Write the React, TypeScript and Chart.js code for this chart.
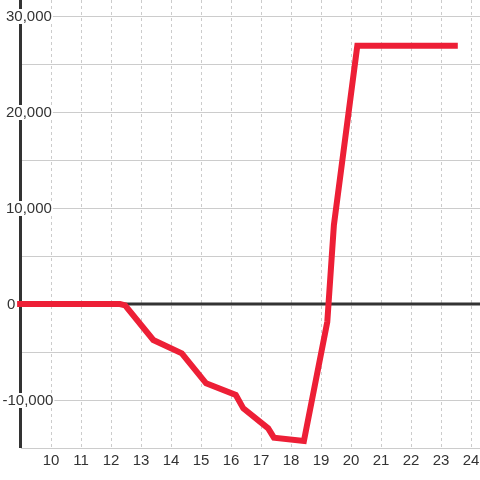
import React, { useEffect, useRef } from "react";
import { Chart, registerables } from "chart.js";

Chart.register(...registerables);

const xValues = [8.87, 12.3, 12.47, 13.41, 14.36, 15.17, 16.16, 16.41, 17.24, 17.43, 18.43, 19.21, 19.43, 20.21, 23.56];
const yValues = [0, 0, -150, -3750, -5140, -8260, -9480, -10870, -12950, -13920, -14270, -1850, 8230, 26900, 26900];
const yGridValues = [-15000, -10000, -5000, 5000, 10000, 15000, 20000, 25000, 30000];
const yTickValues = [30000, 20000, 10000, 0, -10000];
const yTickLabels = ["30,000", "20,000", "10,000", "0", "-10,000"];
const xTickValues = [10, 11, 12, 13, 14, 15, 16, 17, 18, 19, 20, 21, 22, 23, 24];

const FONT = "'Liberation Sans', Arial, sans-serif";

export default function App() {
  const ref = useRef<HTMLCanvasElement>(null);

  useEffect(() => {
    const canvas = ref.current;
    if (!canvas) return;

    const yAxisPlugin = {
      id: "yAxisCustom",
      beforeDatasetsDraw(chart: any) {
        const ctx = chart.ctx;
        const ys = chart.scales.y;
        const area = chart.chartArea;
        ctx.save();
        ctx.strokeStyle = "#cccccc";
        ctx.lineWidth = 1;
        yGridValues.forEach((v) => {
          const py = Math.round(ys.getPixelForValue(v)) + 0.5;
          ctx.beginPath();
          ctx.moveTo(area.left, py);
          ctx.lineTo(area.right, py);
          ctx.stroke();
        });
        const zy = ys.getPixelForValue(0);
        ctx.strokeStyle = "#333333";
        ctx.lineWidth = 3;
        ctx.beginPath();
        ctx.moveTo(area.left, zy);
        ctx.lineTo(area.right, zy);
        ctx.stroke();
        ctx.beginPath();
        ctx.moveTo(area.left - 0.5, area.top);
        ctx.lineTo(area.left - 0.5, area.bottom);
        ctx.stroke();
        ctx.font = `15px ${FONT}`;
        ctx.textBaseline = "middle";
        ctx.textAlign = "left";
        yTickValues.forEach((v, i) => {
          const label = yTickLabels[i];
          const py = ys.getPixelForValue(v);
          const w = ctx.measureText(label).width;
          const x = label.startsWith("-") ? 2.5 : label.length === 1 ? 7 : 6;
          ctx.fillStyle = "#ffffff";
          ctx.fillRect(x - 2, py - 7, w + 3, 15);
          ctx.fillStyle = "#333333";
          ctx.fillText(label, x, py + 1);
        });
        ctx.restore();
      },
    };

    const chart = new Chart(canvas, {
      type: "line",
      data: {
        datasets: [
          {
            data: xValues.map((x, i) => ({ x, y: yValues[i] })),
            borderColor: "#ed1f36",
            borderWidth: 6,
            pointRadius: 0,
            tension: 0,
            fill: false,
            clip: false as any,
            borderCapStyle: "butt",
            borderJoinStyle: "miter",
          },
        ],
      },
      options: {
        animation: false,
        responsive: false,
        devicePixelRatio: 1,
        layout: { padding: 0 },
        plugins: {
          legend: { display: false },
          tooltip: { enabled: false },
        },
        scales: {
          x: {
            type: "linear",
            position: "bottom",
            min: 9,
            max: 24.3,
            afterFit: (s: any) => {
              s.height = 32;
              s.paddingLeft = 0;
              s.paddingRight = 0;
            },
            afterBuildTicks: (s: any) => {
              s.ticks = xTickValues.map((v) => ({ value: v }));
            },
            ticks: {
              stepSize: 1,
              padding: 4,
              color: "#333333",
              font: { family: FONT, size: 15 },
              maxRotation: 0,
              autoSkip: false,
            },
            grid: {
              drawTicks: false,
              color: "#cccccc",
              lineWidth: 1,
            },
            border: { display: false, dash: [3, 3] },
          },
          y: {
            type: "linear",
            position: "left",
            min: -15000,
            max: 31667,
            afterFit: (s: any) => {
              s.width = 21;
              s.paddingTop = 0;
              s.paddingBottom = 0;
            },
            ticks: { display: false, stepSize: 5000 },
            grid: { display: false, drawTicks: false },
            border: { display: false },
          },
        },
      },
      plugins: [yAxisPlugin],
    });

    return () => chart.destroy();
  }, []);

  return (
    <div style={{ position: "fixed", left: 0, top: 0, width: 480, height: 480, background: "#ffffff" }}>
      <canvas ref={ref} width={480} height={480} style={{ display: "block" }} />
    </div>
  );
}
